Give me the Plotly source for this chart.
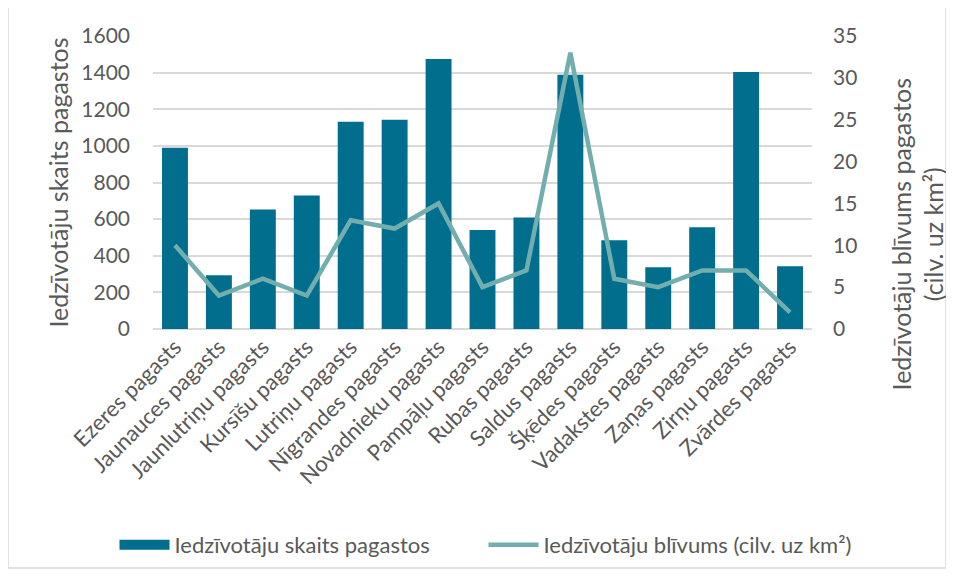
import plotly.graph_objects as go

categories = ["Ezeres pagasts", "Jaunauces pagasts", "Jaunlutriņu pagasts", "Kursīšu pagasts",
              "Lutriņu pagasts", "Nīgrandes pagasts", "Novadnieku pagasts", "Pampāļu pagasts",
              "Rubas pagasts", "Saldus pagasts", "Šķēdes pagasts", "Vadakstes pagasts",
              "Zaņas pagasts", "Zirņu pagasts", "Zvārdes pagasts"]
population = [990, 294, 653, 729, 1132, 1143, 1475, 541, 609, 1388, 484, 337, 555, 1404, 343]
density = [10, 4, 6, 4, 13, 12, 15, 5, 7, 33, 6, 5, 7, 7, 2]

bar_name = "Iedzīvotāju skaits pagastos"
line_name = "Iedzīvotāju blīvums (cilv. uz km²)"
left_title = "Iedzīvotāju skaits pagastos"
right_title = "Iedzīvotāju blīvums pagastos<br>(cilv. uz km²)"

FONT = "Lato"
TXT = "#595959"
BAR = "#006E8C"
LINE = "#73AEAE"

fig = go.Figure()
fig.add_trace(go.Bar(x=categories, y=population, name=bar_name, marker_color=BAR,
                     marker_line_width=0, yaxis="y", showlegend=False))
# legend-only entry drawn as a wide block, like the reference legend key
fig.add_trace(go.Scatter(x=[None], y=[None], name=bar_name, mode="lines",
                         line=dict(color=BAR, width=13), yaxis="y", showlegend=True))
fig.add_trace(go.Scatter(x=categories, y=density, name=line_name, mode="lines",
                         line=dict(color=LINE, width=4.5), yaxis="y2"))

# the page body adds an 8px offset, so the figure is sized 8px smaller on each side
fig.update_layout(
    width=946, height=569,
    margin=dict(l=145, r=142, t=28, b=247),
    plot_bgcolor="white", paper_bgcolor="white",
    font=dict(family=FONT, color=TXT, size=18),
    bargap=0.41,
    showlegend=True,
    legend=dict(orientation="h", x=-0.0584, y=-0.731, yanchor="middle", xanchor="left",
                font=dict(size=22, color=TXT), traceorder="normal", itemwidth=50,
                entrywidth=304, entrywidthmode="pixels"),
    xaxis=dict(tickangle=-45, showgrid=False, showline=False, ticks="", automargin=False,
               tickfont=dict(size=22, color=TXT)),
    yaxis=dict(range=[0, 1600], dtick=200, showgrid=True, gridcolor="#D9D9D9", gridwidth=1.5,
               zeroline=True, zerolinecolor="#D9D9D9", zerolinewidth=1.5, automargin=False,
               tickfont=dict(size=21, color=TXT), ticks="", ticklabelstandoff=22,
               title=dict(text=left_title, font=dict(size=25, color=TXT), standoff=5)),
    yaxis2=dict(range=[0, 35], dtick=5, overlaying="y", side="right", showgrid=False,
                zeroline=False, tickfont=dict(size=21, color=TXT), ticks="", automargin=False,
                ticklabelstandoff=20),
    annotations=[dict(text=right_title, textangle=-90, xref="paper", yref="paper",
                      x=1.1595, y=0.323, xanchor="center", yanchor="middle", showarrow=False,
                      font=dict(size=25, color=TXT))],
    shapes=[dict(type="rect", xref="paper", yref="paper", x0=-0.22, x1=1.2033,
                 y0=-0.816, y1=1.102, line=dict(color="#D9D9D9", width=1.5), layer="below")],
)

fig.write_html("out.html")
